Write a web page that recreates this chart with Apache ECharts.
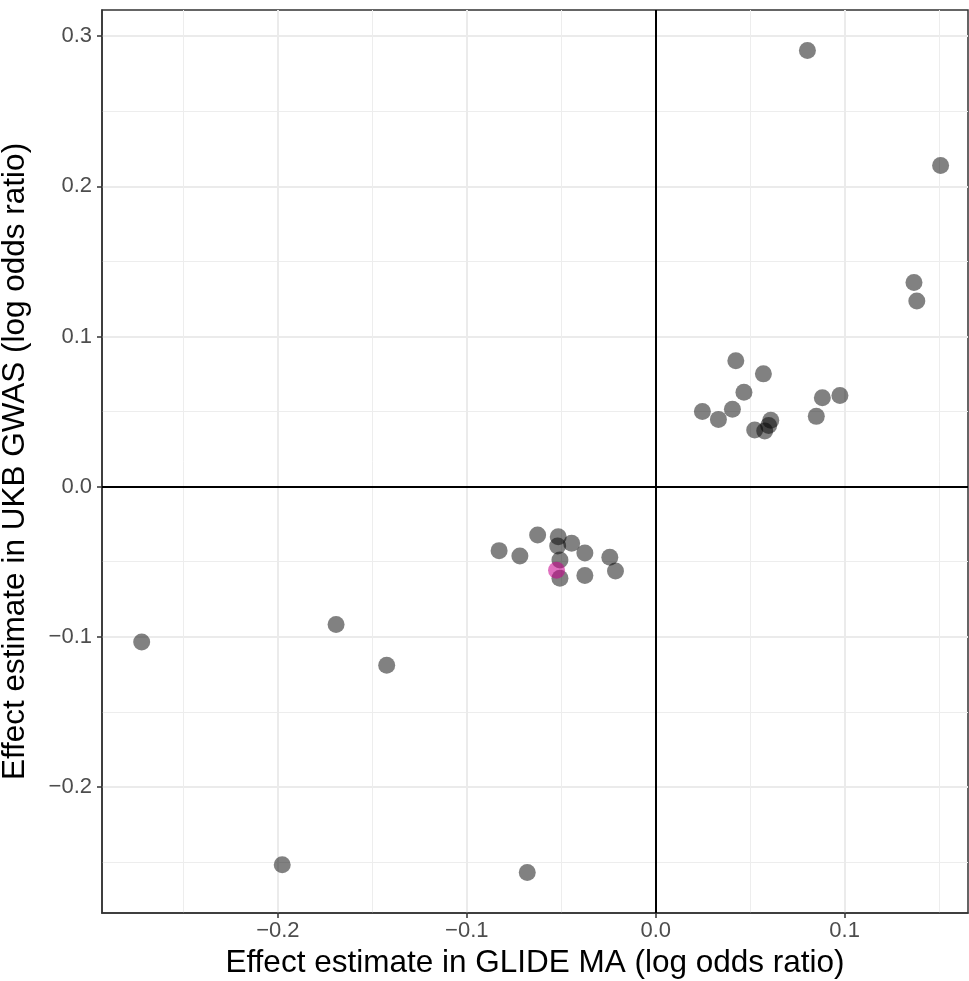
<!DOCTYPE html>
<html>
<head>
<meta charset="utf-8">
<script src="https://cdn.jsdelivr.net/npm/echarts@6/dist/echarts.min.js"></script>
<style>
  html, body { margin: 0; padding: 0; background: #fff; }
  #chart { width: 969px; height: 981px; }
</style>
</head>
<body>
<div id="chart"></div>
<script>
// Effect estimates (log odds ratio)
const glideX = [
  0.0803, 0.1508, 0.1367, 0.1382,
  0.0424, 0.0570, 0.0467, 0.0406, 0.0247, 0.0332,
  0.0882, 0.0975, 0.0850,
  0.0524, 0.0577, 0.0609, 0.0598,
  -0.0829, -0.0719, -0.0625, -0.0516, -0.0519, -0.0445,
  -0.0375, -0.0243, -0.0213, -0.0507, -0.0507, -0.0375,
  -0.2721, -0.1977, -0.1692, -0.1424, -0.0680,
];
const ukbY = [
  0.2905, 0.2139, 0.1359, 0.1237,
  0.0838, 0.0751, 0.0629, 0.0516, 0.0501, 0.0448,
  0.0592, 0.0607, 0.0468,
  0.0377, 0.0370, 0.0442, 0.0407,
  -0.0426, -0.0462, -0.0322, -0.0333, -0.0395, -0.0377,
  -0.0442, -0.0470, -0.0562, -0.0488, -0.0610, -0.0592,
  -0.1034, -0.2518, -0.0918, -0.1189, -0.2569,
];
// the highlighted variant
const highlightX = [-0.0525];
const highlightY = [-0.0557];

const xTitle = "Effect estimate in GLIDE MA (log odds ratio)";
const yTitle = "Effect estimate in UKB GWAS (log odds ratio)";

const xMin = -0.2931, xMax = 0.1653;
const yMin = -0.2839, yMax = 0.3174;

const FONT = "Liberation Sans";

function fmt(v) {
  const s = Math.abs(v).toFixed(1);
  return v < -1e-9 ? "\u2212" + s : s;
}

// minor grid axis (0.05 steps) – carries the data
function minorAxis(min, max) {
  return {
    type: "value", min: min, max: max,
    minInterval: 0.05, maxInterval: 0.05,
    axisLine: { show: false, onZero: false }, axisTick: { show: false }, axisLabel: { show: false },
    splitLine: { show: true, showMinLine: false, showMaxLine: false, lineStyle: { color: "#EDEDED", width: 1 } },
  };
}

// major axis (0.1 steps) – labels, ticks and major grid
function majorAxis(min, max, position, name, isY) {
  return {
    type: "value", min: min, max: max, position: position,
    minInterval: 0.1, maxInterval: 0.1,
    name: name,
    nameLocation: "middle",
    nameGap: isY ? 71 : 34,
    nameTextStyle: { fontFamily: FONT, fontSize: 31.5, color: "#000" },
    axisLine: { show: true, onZero: false, lineStyle: { color: "#333", width: 1.5 } },
    axisTick: { show: true, length: 5, lineStyle: { color: "#333", width: 1.5 } },
    axisLabel: {
      show: true, margin: isY ? 10 : 7, showMinLabel: false, showMaxLabel: false,
      fontFamily: FONT, fontSize: 22, color: "#4D4D4D",
      formatter: fmt,
    },
    splitLine: { show: true, showMinLine: false, showMaxLine: false, lineStyle: { color: "#EBEBEB", width: 2 } },
  };
}

const chart = echarts.init(document.getElementById("chart"));

chart.setOption({
  animation: false,
  backgroundColor: "#fff",
  grid: {
    left: 102, right: 1, top: 10, bottom: 68,
    containLabel: false, outerBoundsMode: "none",
    show: true, borderColor: "#333", borderWidth: 1.5, backgroundColor: "transparent",
  },
  xAxis: [
    minorAxis(xMin, xMax),
    majorAxis(xMin, xMax, "bottom", xTitle, false),
  ],
  yAxis: [
    minorAxis(yMin, yMax),
    majorAxis(yMin, yMax, "left", yTitle, true),
  ],
  series: [
    {
      type: "scatter",
      xAxisIndex: 0, yAxisIndex: 0,
      data: glideX.map((x, i) => [x, ukbY[i]]),
      symbol: "circle", symbolSize: 17,
      itemStyle: { color: "rgba(0,0,0,0.62)" },
      markLine: {
        silent: true, symbol: "none", label: { show: false },
        lineStyle: { color: "#000", width: 2, type: "solid" },
        data: [{ xAxis: 0 }, { yAxis: 0 }],
      },
    },
    {
      type: "scatter",
      xAxisIndex: 0, yAxisIndex: 0,
      data: highlightX.map((x, i) => [x, highlightY[i]]),
      symbol: "circle", symbolSize: 17,
      itemStyle: { color: "rgba(200,0,140,0.7)" },
    },
  ],
});
</script>
</body>
</html>
